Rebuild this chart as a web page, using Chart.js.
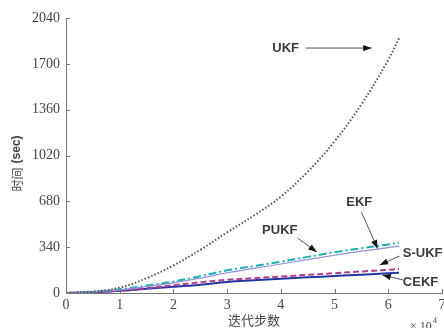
<!DOCTYPE html>
<html>
<head>
<meta charset="utf-8">
<script src="https://cdn.jsdelivr.net/npm/chart.js@4/dist/chart.umd.min.js"></script>
<style>
  html, body { margin: 0; padding: 0; background: #fff; }
  #wrap { width: 444px; height: 328px; }
</style>
</head>
<body>
<div id="wrap"><canvas id="timeChart" width="444" height="328"></canvas></div>
<script>
// iteration steps (x 10^4)
const steps = [0, 0.5, 1, 1.5, 2, 2.5, 3, 3.5, 4, 4.5, 5, 5.5, 6, 6.2];

// run time (sec) per filter
const ukf   = [0, 10, 40, 110, 205, 320, 450, 575, 715, 900, 1125, 1400, 1730, 1890];
const pukf  = [0, 10, 28, 55, 85, 125, 168, 200, 232, 268, 302, 332, 360, 372];
const ekf   = [0, 8, 23, 48, 75, 110, 150, 182, 215, 248, 280, 310, 336, 348];
const sukf  = [0, 6, 18, 36, 58, 80, 98, 110, 122, 135, 147, 160, 172, 178];
const cekf  = [0, 5, 16, 32, 46, 62, 82, 94, 106, 116, 126, 136, 146, 150];

const yTicks = [0, 340, 680, 1020, 1360, 1700, 2040];

// label annotations: text position and arrow, in data units
const notes = [
  { text: 'UKF',   tx: 4.09, ty: 1817, ax: 4.46, ay: 1817, bx: 5.69, by: 1817 },
  { text: 'EKF',   tx: 5.46, ty: 675,  ax: 5.50, ay: 600,  bx: 5.80, by: 330 },
  { text: 'PUKF',  tx: 3.98, ty: 467,  ax: 4.31, ay: 408,  bx: 4.67, by: 304 },
  { text: 'S-UKF', tx: 6.64, ty: 290,  ax: 6.21, ay: 274,  bx: 5.84, by: 208 },
  { text: 'CEKF',  tx: 6.60, ty: 82,   ax: 6.28, ay: 96,   bx: 5.89, by: 134 }
];

function toPoints(ys) {
  return ys.map((y, i) => ({ x: steps[i], y: y }));
}

const tickFont = { family: 'Liberation Serif', size: 14 };

const annotate = {
  id: 'annotate',
  afterDraw(chart) {
    const ctx = chart.ctx;
    const xs = chart.scales.x;
    const ys = chart.scales.y;
    const area = chart.chartArea;
    ctx.save();

    // inward tick marks
    ctx.strokeStyle = '#777';
    ctx.lineWidth = 1;
    yTicks.forEach(v => {
      const py = Math.round(ys.getPixelForValue(v)) + 0.5;
      ctx.beginPath();
      ctx.moveTo(area.left, py);
      ctx.lineTo(area.left + 4, py);
      ctx.stroke();
    });
    for (let v = 0; v <= 7; v++) {
      const px = Math.round(xs.getPixelForValue(v)) + 0.5;
      ctx.beginPath();
      ctx.moveTo(px, area.bottom);
      ctx.lineTo(px, area.bottom - 4);
      ctx.stroke();
    }

    // labels with arrows
    ctx.font = 'bold 13px "Liberation Sans", Arial, sans-serif';
    ctx.textAlign = 'center';
    ctx.textBaseline = 'middle';
    notes.forEach(n => {
      ctx.fillStyle = '#3a3a3a';
      ctx.fillText(n.text, xs.getPixelForValue(n.tx), ys.getPixelForValue(n.ty));
      const x1 = xs.getPixelForValue(n.ax), y1 = ys.getPixelForValue(n.ay);
      const x2 = xs.getPixelForValue(n.bx), y2 = ys.getPixelForValue(n.by);
      ctx.strokeStyle = '#555';
      ctx.lineWidth = 1;
      ctx.beginPath();
      ctx.moveTo(x1, y1);
      ctx.lineTo(x2, y2);
      ctx.stroke();
      const ang = Math.atan2(y2 - y1, x2 - x1);
      ctx.fillStyle = '#111';
      ctx.beginPath();
      ctx.moveTo(x2, y2);
      ctx.lineTo(x2 - 9 * Math.cos(ang - 0.35), y2 - 9 * Math.sin(ang - 0.35));
      ctx.lineTo(x2 - 9 * Math.cos(ang + 0.35), y2 - 9 * Math.sin(ang + 0.35));
      ctx.closePath();
      ctx.fill();
    });

    // axis titles
    ctx.fillStyle = '#444';
    ctx.font = '13px "Noto Sans CJK SC", sans-serif';
    ctx.fillText('迭代步数', (area.left + area.right) / 2, 320);
    ctx.save();
    ctx.translate(17, (area.top + area.bottom) / 2);
    ctx.rotate(-Math.PI / 2);
    ctx.textAlign = 'right';
    ctx.font = '12px "Noto Sans CJK SC", sans-serif';
    ctx.fillText('时间', -12, 0);
    ctx.textAlign = 'left';
    ctx.font = 'bold 12px "Liberation Sans", sans-serif';
    ctx.fillText('(sec)', -8, 0);
    ctx.restore();

    // exponent
    ctx.font = '12px "Liberation Serif", serif';
    ctx.textAlign = 'left';
    ctx.fillText('× 10', 410, 327);
    ctx.font = '8px "Liberation Serif", serif';
    ctx.fillText('4', 433, 321);
    ctx.restore();
  }
};

new Chart(document.getElementById('timeChart').getContext('2d'), {
  type: 'line',
  data: {
    datasets: [
      { label: 'UKF', data: toPoints(ukf), borderColor: '#555', borderWidth: 2, borderDash: [1.5, 2], tension: 0.4 },
      { label: 'EKF', data: toPoints(ekf), borderColor: '#9090d8', borderWidth: 1.2, tension: 0.4 },
      { label: 'PUKF', data: toPoints(pukf), borderColor: '#1fb0b0', borderWidth: 2, borderDash: [8, 3, 2, 3], tension: 0.4 },
      { label: 'S-UKF', data: toPoints(sukf), borderColor: '#b0408f', borderWidth: 2, borderDash: [6, 3], tension: 0.4 },
      { label: 'CEKF', data: toPoints(cekf), borderColor: '#2535a0', borderWidth: 2, tension: 0.4 }
    ]
  },
  options: {
    responsive: false,
    animation: false,
    layout: { padding: { top: 18, right: 2, left: 0, bottom: 0 } },
    elements: { point: { radius: 0 } },
    plugins: { legend: { display: false }, tooltip: { enabled: false } },
    scales: {
      x: {
        type: 'linear',
        min: 0,
        max: 7,
        afterFit(scale) { scale.height = 35; scale.paddingRight = 0; scale.paddingLeft = 0; },
        border: { display: true, color: '#777' },
        grid: { display: false, drawTicks: false },
        ticks: { stepSize: 1, color: '#444', font: tickFont, padding: 4, maxRotation: 0 }
      },
      y: {
        min: 0,
        max: 2040,
        afterFit(scale) { scale.width = 66; scale.paddingTop = 0; },
        afterBuildTicks(scale) { scale.ticks = yTicks.map(v => ({ value: v })); },
        border: { display: true, color: '#777' },
        grid: { display: false, drawTicks: false },
        ticks: { color: '#444', font: tickFont, padding: 6, callback: v => String(v) }
      }
    }
  },
  plugins: [annotate]
});
</script>
</body>
</html>
